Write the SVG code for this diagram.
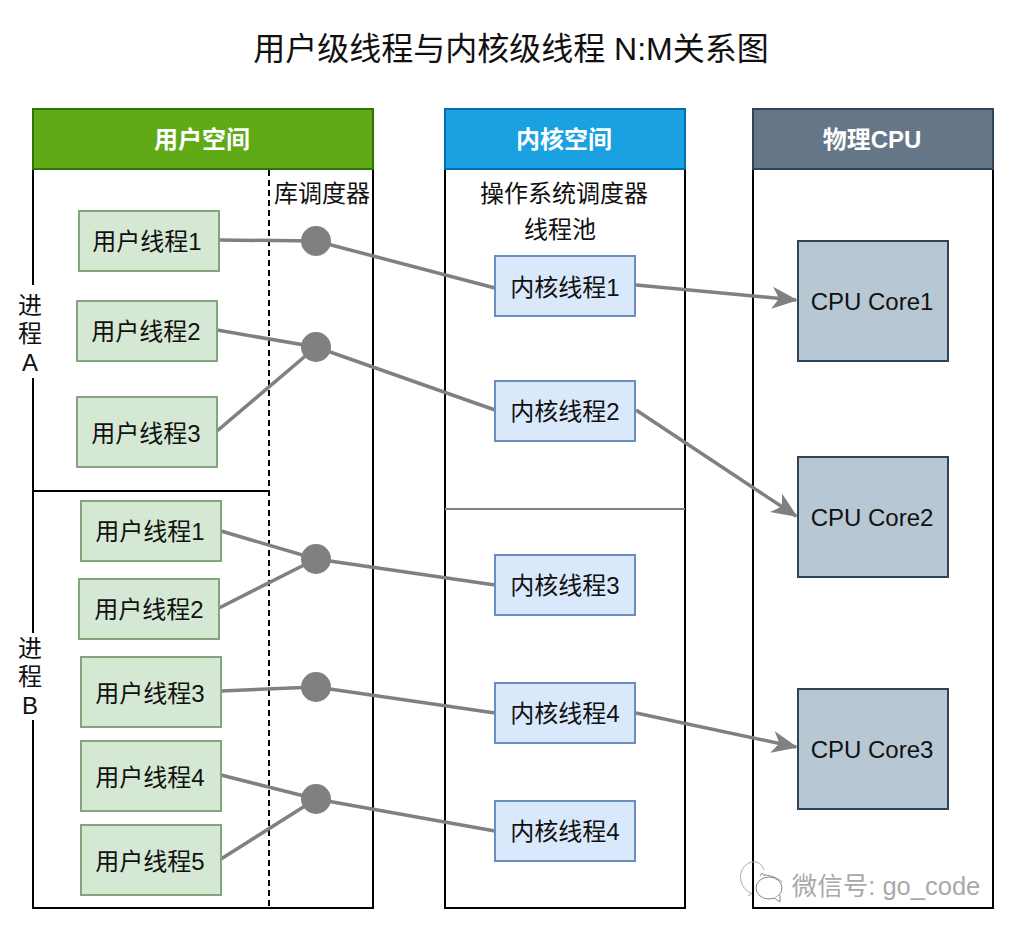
<svg xmlns="http://www.w3.org/2000/svg" width="1012" height="932" viewBox="0 0 1012 932">
<style>
text{font-family:"Liberation Sans","Noto Sans CJK SC",sans-serif;fill:#111;text-anchor:middle}
.t{font-size:24px}
.h{font-size:24px;font-weight:bold;fill:#fff}
.u{fill:#d5e8d4;stroke:#82a57e;stroke-width:2}
.k{fill:#dae8fc;stroke:#6c8ebf;stroke-width:2}
.c{fill:#b7c7d3;stroke:#314354;stroke-width:2}
.b{fill:none;stroke:#000;stroke-width:2}
.d{fill:#808080}
.l{fill:none;stroke:#808080;stroke-width:3.5}
.a{marker-end:url(#arr)}
</style>
<defs>
<marker id="arr" viewBox="0 0 26 22" refX="24" refY="11" markerWidth="26" markerHeight="22" markerUnits="userSpaceOnUse" orient="auto">
<path d="M0 0L26 11L0 22L7 11Z" fill="#808080"/>
</marker>
</defs>
<rect width="1012" height="932" fill="#fff"/>
<text id="title" x="511" y="60" style="font-size:32px">用户级线程与内核级线程 N:M关系图</text>

<g id="user-space">
<path class="b" d="M33 170V285M33 378V633M33 720V908H373V170M33 491H269"/>
<rect x="33" y="109" width="340" height="60" fill="#60a917" stroke="#2d7600" stroke-width="2"/>
<text class="h" x="202" y="148">用户空间</text>
<path d="M269 170V908" fill="none" stroke="#000" stroke-width="2" stroke-dasharray="6 4"/>
<text class="t" x="322" y="202">库调度器</text>
</g>
<g id="kernel-space">
<rect class="b" x="445" y="169" width="240" height="739"/>
<rect x="445" y="109" width="240" height="60" fill="#1ba1e2" stroke="#006eaf" stroke-width="2"/>
<text class="h" x="564" y="148">内核空间</text>
<text class="t" x="564" y="202">操作系统调度器</text>
<text class="t" x="560" y="238">线程池</text>
<path d="M445 509H685" stroke="#808080" stroke-width="2" fill="none"/>
</g>
<g id="cpu-space">
<rect class="b" x="753" y="169" width="240" height="739"/>
<rect x="753" y="109" width="240" height="60" fill="#647687" stroke="#314354" stroke-width="2"/>
<text class="h" x="872" y="148">物理CPU</text>
</g>

<g id="connectors">
<path class="l" d="M219 240L316 241L495 288"/>
<path class="l a" d="M636 285L796 300"/>
<path class="l" d="M217 330L316 347L495 410"/>
<path class="l" d="M217 431L316 347"/>
<path class="l a" d="M636 410L796 516"/>
<path class="l" d="M221 531L316 559L495 585"/>
<path class="l" d="M219 608L316 559"/>
<path class="l" d="M221 691L316 687L495 713"/>
<path class="l a" d="M636 713L796 747"/>
<path class="l" d="M221 775L316 799L495 831"/>
<path class="l" d="M221 859L316 799"/>
</g>

<g id="proc-a"><text class="t" x="30" y="314">进</text><text class="t" x="30" y="342">程</text><text class="t" x="30" y="371">A</text></g>
<g id="proc-b"><text class="t" x="30" y="657">进</text><text class="t" x="30" y="685">程</text><text class="t" x="30" y="714">B</text></g>

<g id="sched1"><circle class="d" cx="316" cy="241" r="15"/></g>
<g id="sched2"><circle class="d" cx="316" cy="347" r="15"/></g>
<g id="sched3"><circle class="d" cx="316" cy="559" r="15"/></g>
<g id="sched4"><circle class="d" cx="316" cy="687" r="15"/></g>
<g id="sched5"><circle class="d" cx="316" cy="799" r="15"/></g>

<g id="ua1"><rect class="u" x="79" y="211" width="140" height="60"/><text class="t" x="147" y="250">用户线程1</text></g>
<g id="ua2"><rect class="u" x="77" y="301" width="140" height="60"/><text class="t" x="146" y="340">用户线程2</text></g>
<g id="ua3"><rect class="u" x="77" y="397" width="140" height="70"/><text class="t" x="146" y="442">用户线程3</text></g>
<g id="ub1"><rect class="u" x="81" y="501" width="140" height="60"/><text class="t" x="150" y="540">用户线程1</text></g>
<g id="ub2"><rect class="u" x="79" y="579" width="140" height="60"/><text class="t" x="149" y="618">用户线程2</text></g>
<g id="ub3"><rect class="u" x="81" y="657" width="140" height="70"/><text class="t" x="150" y="702">用户线程3</text></g>
<g id="ub4"><rect class="u" x="81" y="741" width="140" height="70"/><text class="t" x="150" y="786">用户线程4</text></g>
<g id="ub5"><rect class="u" x="81" y="825" width="140" height="70"/><text class="t" x="150" y="870">用户线程5</text></g>

<g id="k1"><rect class="k" x="495" y="256" width="140" height="60"/><text class="t" x="565" y="296">内核线程1</text></g>
<g id="k2"><rect class="k" x="495" y="381" width="140" height="60"/><text class="t" x="565" y="420">内核线程2</text></g>
<g id="k3"><rect class="k" x="495" y="555" width="140" height="60"/><text class="t" x="565" y="594">内核线程3</text></g>
<g id="k4"><rect class="k" x="495" y="683" width="140" height="60"/><text class="t" x="565" y="722">内核线程4</text></g>
<g id="k5"><rect class="k" x="495" y="801" width="140" height="60"/><text class="t" x="565" y="840">内核线程4</text></g>

<g id="core1"><rect class="c" x="798" y="241" width="150" height="120"/><text class="t" x="872" y="310">CPU Core1</text></g>
<g id="core2"><rect class="c" x="798" y="457" width="150" height="120"/><text class="t" x="872" y="526">CPU Core2</text></g>
<g id="core3"><rect class="c" x="798" y="689" width="150" height="120"/><text class="t" x="872" y="758">CPU Core3</text></g>

<g id="watermark">
<path d="M751 893C743 890 739 880 741 873C743 865 750 861 756 862C760 863 763 866 764 870M752 893L748 896" fill="none" stroke="#aaa" stroke-width="1"/>
<path d="M760 876L762 873L765 876M764 875C770 875 778 878 782 882" fill="none" stroke="#888" stroke-width="1"/>
<ellipse cx="769" cy="888" rx="13" ry="11" fill="#fff" stroke="#888" stroke-width="1"/>
<path d="M774 898L780 902L780 895" fill="#fff" stroke="#888" stroke-width="1"/>
<text x="886" y="895" style="font-size:25.5px;fill:#a9a9a9">微信号: go_code</text>
</g>
</svg>
